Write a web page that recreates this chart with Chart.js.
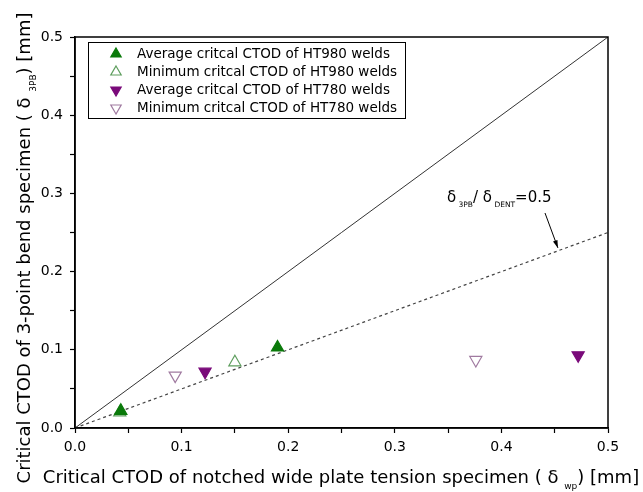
<!DOCTYPE html>
<html>
<head>
<meta charset="utf-8">
<script src="https://cdn.jsdelivr.net/npm/chart.js@4/dist/chart.umd.min.js"></script>
<style>
  html, body { margin: 0; padding: 0; background: #fff; }
  #wrap { width: 643px; height: 492px; }
</style>
</head>
<body>
<div id="wrap"><canvas id="ctodChart" width="643" height="492"></canvas></div>
<script>
// series
let seriesLabels = [
  "Average critcal CTOD of HT980 welds",
  "Minimum critcal CTOD of HT980 welds",
  "Average critcal CTOD of HT780 welds",
  "Minimum critcal CTOD of HT780 welds"
];
let avg980X = [0.043, 0.19];
let avg980Y = [0.022, 0.103];
let min980X = [0.042, 0.150];
let min980Y = [0.020, 0.084];
let avg780X = [0.122, 0.472];
let avg780Y = [0.072, 0.093];
let min780X = [0.094, 0.376];
let min780Y = [0.067, 0.087];

// reference lines
let lineX = [0, 0.5];
let equalY = [0, 0.5];
let halfY = [0, 0.25];

// axes
let axisMin = 0;
let axisMax = 0.5;
let majorStep = 0.1;
let minorStep = 0.05;

let font = "'DejaVu Sans', sans-serif";

function pts(xs, ys) {
  return xs.map((x, i) => ({ x: x, y: ys[i] }));
}

let green = "#0a7a0a";
let greenOpen = "#5e9e5e";
let purple = "#7a0a7a";
let purpleOpen = "#a07aa0";

let markerSets = [
  { style: "triangle", rot: 0, fill: green, stroke: green },
  { style: "triangle", rot: 0, fill: "rgba(0,0,0,0)", stroke: greenOpen },
  { style: "triangle", rot: 180, fill: purple, stroke: purple },
  { style: "triangle", rot: 180, fill: "rgba(0,0,0,0)", stroke: purpleOpen }
];

let seriesData = [
  pts(avg980X, avg980Y),
  pts(min980X, min980Y),
  pts(avg780X, avg780Y),
  pts(min780X, min780Y)
];

let datasets = seriesData.map((d, i) => ({
  label: seriesLabels[i],
  data: d,
  showLine: false,
  pointStyle: markerSets[i].style,
  rotation: markerSets[i].rot,
  pointRadius: 7,
  pointBackgroundColor: markerSets[i].fill,
  pointBorderColor: markerSets[i].stroke,
  pointBorderWidth: 1.2
}));

datasets.push({
  label: "1:1",
  data: pts(lineX, equalY),
  showLine: true,
  borderColor: "#333",
  borderWidth: 1,
  pointRadius: 0
});
datasets.push({
  label: "0.5",
  data: pts(lineX, halfY),
  showLine: true,
  borderColor: "#444",
  borderWidth: 1.2,
  borderDash: [3, 3],
  pointRadius: 0
});

// draws text with subscript pieces: [[text, isSub], ...]
function drawRich(ctx, parts, x, y, size, subSize) {
  let cx = x;
  parts.forEach(p => {
    ctx.font = (p[1] ? subSize : size) + "px " + font;
    ctx.fillText(p[0], cx, p[1] ? y + size * 0.35 : y);
    cx += ctx.measureText(p[0]).width;
  });
  return cx - x;
}
function measureRich(ctx, parts, size, subSize) {
  let w = 0;
  parts.forEach(p => {
    ctx.font = (p[1] ? subSize : size) + "px " + font;
    w += ctx.measureText(p[0]).width;
  });
  return w;
}

let extras = {
  id: "extras",
  afterDraw(chart) {
    let ctx = chart.ctx;
    let a = chart.chartArea;
    let xs = chart.scales.x;
    let ys = chart.scales.y;
    ctx.save();

    // frame
    ctx.strokeStyle = "#000";
    ctx.lineWidth = 1.5;
    ctx.strokeRect(a.left, a.top, a.right - a.left, a.bottom - a.top);

    ctx.fillStyle = "#000";
    ctx.textBaseline = "alphabetic";

    // x title
    let xParts = [["Critical CTOD of notched wide plate tension specimen ( \u03b4 ", false], ["wp", true], [") [mm]", false]];
    let xw = measureRich(ctx, xParts, 18, 9);
    drawRich(ctx, xParts, 341 - xw / 2, 483, 18, 9);

    // y title
    let yParts = [["Critical CTOD of 3-point bend specimen ( \u03b4 ", false], ["3PB", true], [") [mm]", false]];
    let yw = measureRich(ctx, yParts, 18, 9);
    ctx.save();
    ctx.translate(30, 248);
    ctx.rotate(-Math.PI / 2);
    drawRich(ctx, yParts, -yw / 2, 0, 18, 9);
    ctx.restore();

    // annotation
    let aParts = [["\u03b4", false], [" 3PB", true], ["/ \u03b4", false], [" DENT", true], ["=0.5", false]];
    drawRich(ctx, aParts, 447, 202, 15, 7.5);
    let ax = xs.getPixelForValue(0.453);
    let ay = ys.getPixelForValue(0.453 * 0.5);
    ctx.strokeStyle = "#000";
    ctx.lineWidth = 1;
    ctx.beginPath();
    ctx.moveTo(545, 213);
    ctx.lineTo(ax, ay - 3);
    ctx.stroke();
    let ang = Math.atan2(ay - 3 - 213, ax - 545);
    ctx.beginPath();
    ctx.moveTo(ax, ay - 3);
    ctx.lineTo(ax - 8 * Math.cos(ang - 0.3), ay - 3 - 8 * Math.sin(ang - 0.3));
    ctx.lineTo(ax - 8 * Math.cos(ang + 0.3), ay - 3 - 8 * Math.sin(ang + 0.3));
    ctx.closePath();
    ctx.fill();

    // legend
    let lx = 88, ly = 42, lw = 317, lh = 76;
    ctx.fillStyle = "#fff";
    ctx.fillRect(lx, ly, lw, lh);
    ctx.strokeStyle = "#000";
    ctx.lineWidth = 1;
    ctx.strokeRect(lx + 0.5, ly + 0.5, lw, lh);
    for (let i = 0; i < 4; i++) {
      let ry = ly + 12 + i * 18;
      let m = markerSets[i];
      ctx.fillStyle = m.fill;
      ctx.strokeStyle = m.stroke;
      ctx.lineWidth = 1.2;
      Chart.helpers.drawPoint(ctx, { pointStyle: m.style, rotation: m.rot, radius: 6, borderWidth: 1.2 }, 116, ry);
      ctx.fillStyle = "#000";
      ctx.font = "13.5px " + font;
      ctx.textBaseline = "middle";
      ctx.fillText(seriesLabels[i], 137, ry);
    }
    ctx.restore();
  }
};

let tickOpts = {
  min: axisMin,
  max: axisMax,
  ticks: {
    stepSize: minorStep,
    autoSkip: false,
    color: "#000",
    font: { family: font, size: 14 },
    callback: function(v) {
      let r = Math.round(v / majorStep * 1000) / 1000;
      return Number.isInteger(r) ? v.toFixed(1) : "";
    }
  },
  grid: {
    drawOnChartArea: false,
    drawTicks: true,
    tickLength: 5,
    tickColor: "#000",
    tickWidth: 1.2
  },
  border: { display: true, color: "#000", width: 1.5 }
};

new Chart(document.getElementById("ctodChart"), {
  type: "scatter",
  data: { datasets: datasets },
  options: {
    responsive: false,
    animation: false,
    events: [],
    layout: { padding: { top: 37, right: 35, left: 0, bottom: 0 } },
    plugins: { legend: { display: false }, tooltip: { enabled: false } },
    scales: {
      x: Object.assign({}, JSON.parse(JSON.stringify(tickOpts)), {
        type: "linear",
        ticks: Object.assign({}, tickOpts.ticks, { padding: 6 }),
        afterFit: s => { s.height = 64; }
      }),
      y: Object.assign({}, JSON.parse(JSON.stringify(tickOpts)), {
        type: "linear",
        ticks: Object.assign({}, tickOpts.ticks, { padding: 7 }),
        afterFit: s => { s.width = 75; }
      })
    }
  },
  plugins: [extras]
});
</script>
</body>
</html>
